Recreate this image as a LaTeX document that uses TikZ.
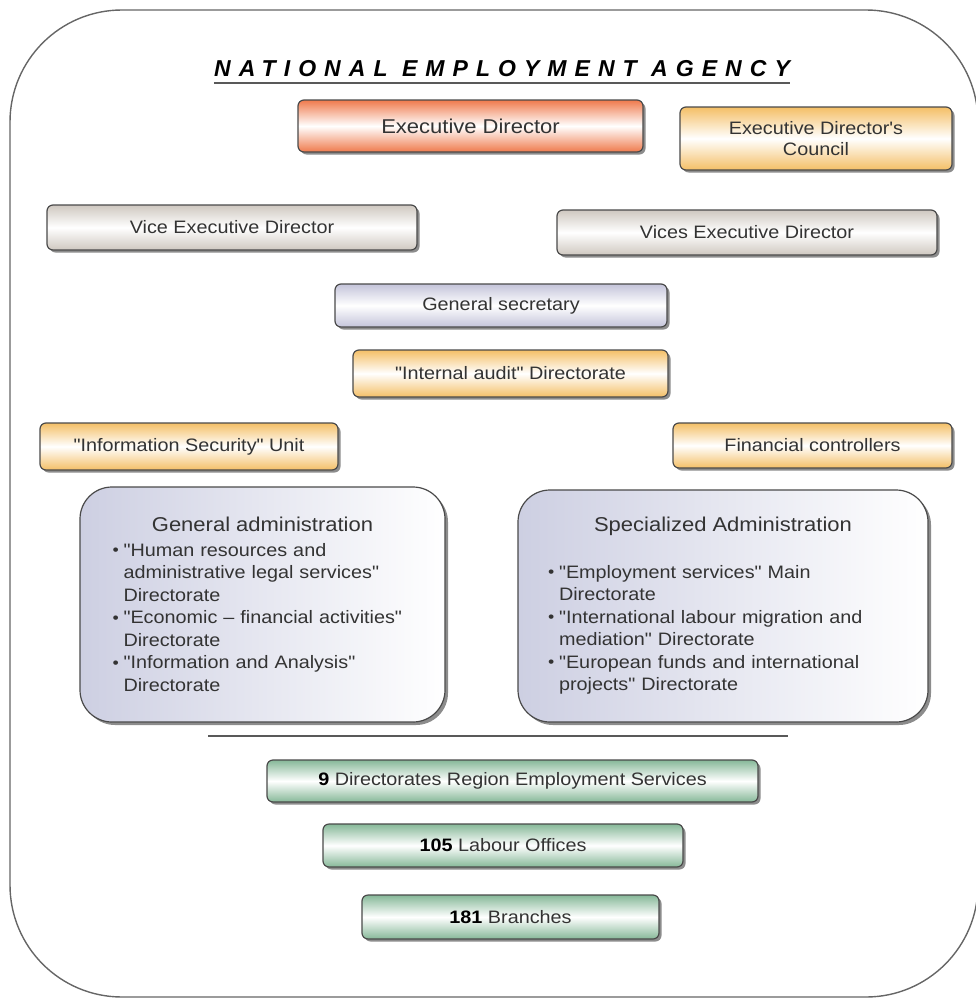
\documentclass[tikz,border=0pt]{standalone}
\usepackage{fontspec}
\setmainfont[FakeStretch=1.1,Ligatures=TeXOff]{Liberation Sans}
\newfontfamily\headfont[LetterSpace=35]{Liberation Sans}
\usetikzlibrary{shadows}

\definecolor{boxline}{HTML}{4A4A4A}
\definecolor{txtgray}{HTML}{333333}
\definecolor{execred}{HTML}{EF7A4C}
\definecolor{amber}{HTML}{F4BF66}
\definecolor{stone}{HTML}{CFC8C0}
\definecolor{lilac}{HTML}{C4C4DA}
\definecolor{sage}{HTML}{86B898}
\definecolor{mist}{HTML}{CDCFE2}

\newcommand{\boxsize}{\fontsize{18}{21}\selectfont}
\newcommand{\admsize}{\fontsize{18}{22.5}\selectfont}
\newcommand{\bitem}[1]{\par\hangindent=11pt\hangafter=1\noindent\makebox[11pt][l]{\raisebox{.5pt}{\scalebox{.9}{\textbullet}}}#1}

\begin{document}
\begin{tikzpicture}[x=1pt,y=-1pt]
	\tikzset{
		unit/.style={draw=boxline, line width=1.2pt, rounded corners=6pt,
			top color=#1, bottom color=#1, middle color=white,
			drop shadow={shadow xshift=2.5pt, shadow yshift=-2.5pt, fill=black, opacity=.45},
			font=\boxsize, text=txtgray, align=center, inner sep=2pt},
		admin/.style={draw=boxline, line width=1.2pt, rounded corners=32pt,
			left color=mist, right color=white,
			drop shadow={shadow xshift=3pt, shadow yshift=-3pt, fill=black, opacity=.45},
			font=\admsize, text=txtgray, align=left, inner sep=0pt},
		rule/.style={draw=black!65, line width=1.6pt}
	}
	\useasboundingbox (0,0) rectangle (976,998);

	% outer frame
	\draw[draw=black!60, line width=1.4pt, rounded corners=112pt] (10,10) rectangle (978,997);

	% heading
	\node[anchor=base, inner sep=0pt, text=black] (title) at (502,76)
		{\headfont\fontsize{23}{26}\selectfont\bfseries\itshape NATIONAL EMPLOYMENT AGENCY};
	\draw[rule] ([yshift=-7pt]title.base west) -- ([yshift=-7pt]title.base east);

	% top management
	\node[unit=execred, minimum width=345pt, minimum height=52pt, font=\fontsize{20}{24}\selectfont] (exec) at (470.5,126) {Executive Director};
	\node[unit=amber, minimum width=272pt, minimum height=63pt, text depth=0pt] (council) at (816,138.5) {Executive Director's\\Council};
	\node[unit=stone, minimum width=370pt, minimum height=45pt] (vice) at (232,227.5) {Vice Executive Director};
	\node[unit=stone, minimum width=380pt, minimum height=45pt] (vices) at (747,232.5) {Vices Executive Director};
	\node[unit=lilac, minimum width=332pt, minimum height=43pt] (gensec) at (501,305.5) {General secretary};
	\node[unit=amber, minimum width=315pt, minimum height=47pt] (audit) at (510.5,373.5) {"Internal audit" Directorate};
	\node[unit=amber, minimum width=298pt, minimum height=47pt] (infosec) at (189,446.5) {"Information Security" Unit};
	\node[unit=amber, minimum width=279pt, minimum height=45pt] (finctrl) at (812.5,445.5) {Financial controllers};

	% administrations
	\node[admin, minimum width=365pt, minimum height=235pt, text width=300pt] (genadm) at (262.5,604.5) {%
		{\centering\fontsize{20}{24}\selectfont General administration\par}
		\vspace{2pt}
		\bitem{"Human resources and\newline administrative legal services"\newline Directorate}
		\bitem{"Economic \textendash{} financial activities"\newline Directorate}
		\bitem{"Information and Analysis"\newline Directorate}\par};
	\node[admin, minimum width=410pt, minimum height=232pt, text width=350pt] (specadm) at (723,606) {%
		{\centering\fontsize{20}{24}\selectfont Specialized Administration\par}
		\vspace{24pt}
		\bitem{"Employment services" Main\newline Directorate}
		\bitem{"International labour migration and\newline mediation" Directorate}
		\bitem{"European funds and international\newline projects" Directorate}\par};

	\coordinate (sepL) at (208,736);
	\coordinate (sepR) at (788,736);
	\draw[rule] (sepL) -- (sepR);

	% territorial network
	\node[unit=sage, minimum width=491pt, minimum height=42pt] (regions) at (512.5,781) {\textcolor{black}{\bfseries 9} Directorates Region Employment Services};
	\node[unit=sage, minimum width=360pt, minimum height=43pt] (offices) at (503,845.5) {\textcolor{black}{\bfseries 105} Labour Offices};
	\node[unit=sage, minimum width=297pt, minimum height=44pt] (branches) at (510.5,917) {\textcolor{black}{\bfseries 181} Branches};
\end{tikzpicture}
\end{document}
